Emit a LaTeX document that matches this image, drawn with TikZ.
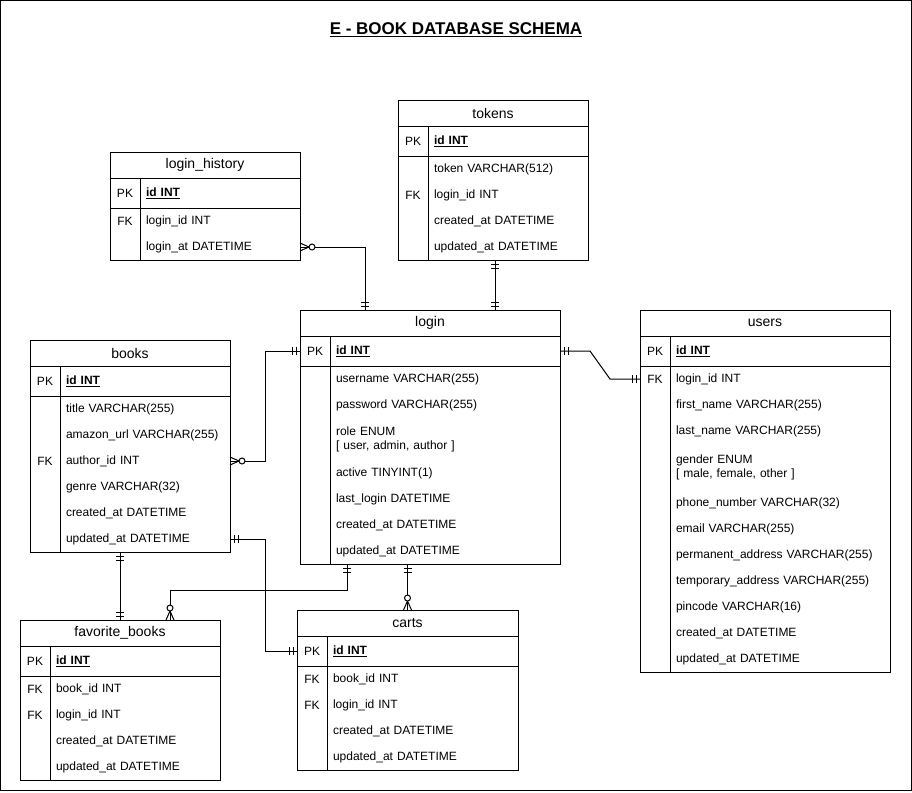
\documentclass[tikz,border=0pt]{standalone}
\usepackage{fontspec}
\setmainfont{Liberation Sans}
\usetikzlibrary{positioning,decorations.markings}

% one table: name, top left, width, title, rows key/text/height
\newcommand\ertable[5]{%
  \pgfmathsetmacro\tw{#3-42}
  \node[hdr, minimum width=#3pt, anchor=north west] (#1-t) at (#2) {#4};
  \node[keycell, minimum height=30pt, anchor=north west] (#1-k0) at (#1-t.south west) {PK};
  \node[cell, text width=\tw pt, minimum height=30pt, right=0pt of #1-k0] (#1-0) {\underline{\textbf{id INT}}};
  \foreach \ky/\txt/\rh [count=\i, evaluate=\i as \j using int(\i-1)] in {#5}{
    \node[keycell, minimum height=\rh pt, below=0pt of #1-k\j] (#1-k\i) {\ky};
    \node[cell, text width=\tw pt, minimum height=\rh pt, right=0pt of #1-k\i] (#1-\i) {\txt};
    \coordinate (#1-end) at (#1-\i.south east);
  }
  \draw (#1-t.north west) rectangle (#1-end);
  \draw (#1-t.south west) -- (#1-t.south east);
  \draw (#1-k0.south west) -- (#1-0.south east);
  \draw (#1-k0.north east) -- (#1-k0.north east |- #1-end);
}

\begin{document}
\begin{tikzpicture}[x=1pt,y=-1pt,line width=1pt,font=\fontsize{12}{14}\selectfont,
  every node/.style={outer sep=0pt},
  hdr/.style={inner sep=0pt, minimum height=26pt, font=\fontsize{14}{16}\selectfont},
  keycell/.style={inner sep=0pt, minimum width=30pt},
  cell/.style={inner xsep=6pt, inner ysep=0pt, align=left},
  one start/.style={postaction={decorate,decoration={markings,
      mark=at position 4pt with {\draw (0,-4pt) -- (0,4pt);},
      mark=at position 8pt with {\draw (0,-4pt) -- (0,4pt);}}}},
  one end/.style={postaction={decorate,decoration={markings,
      mark=at position -4pt with {\draw (0,-4pt) -- (0,4pt);},
      mark=at position -8pt with {\draw (0,-4pt) -- (0,4pt);}}}},
  many start/.style={postaction={decorate,decoration={markings,
      mark=at position 9pt with {\draw (-9pt,4pt) -- (0,0) -- (-9pt,-4pt); \draw[fill=white] (3pt,0) circle (3pt);}}}},
  many end/.style={postaction={decorate,decoration={markings,
      mark=at position -9pt with {\draw (9pt,4pt) -- (0,0) -- (9pt,-4pt); \draw[fill=white] (-3pt,0) circle (3pt);}}}}]
\useasboundingbox (0,0) rectangle (912,792);
\draw (0.5,0.5) rectangle (911.5,790.5);

\node[font=\bfseries\fontsize{17}{20}\selectfont] (title) at (456,30) {\underline{E - BOOK DATABASE SCHEMA}};

\ertable{lhist}{110,152}{190}{login\_history}{FK/{login\_id INT}/26, {}/{login\_at DATETIME}/26}
\ertable{tokens}{398,100}{190}{tokens}{{}/{token VARCHAR(512)}/26, FK/{login\_id INT}/26, {}/{created\_at DATETIME}/26, {}/{updated\_at DATETIME}/26}
\ertable{login}{300,310}{260}{login}{{}/{username VARCHAR(255)}/26, {}/{password VARCHAR(255)}/26, {}/{role ENUM\\{}[ user, admin, author ]}/42, {}/{active TINYINT(1)}/26, {}/{last\_login DATETIME}/26, {}/{created\_at DATETIME}/26, {}/{updated\_at DATETIME}/26}
\ertable{users}{640,310}{250}{users}{FK/{login\_id INT}/26, {}/{first\_name VARCHAR(255)}/26, {}/{last\_name VARCHAR(255)}/26, {}/{gender ENUM\\{}[ male, female, other ]}/46, {}/{phone\_number VARCHAR(32)}/26, {}/{email VARCHAR(255)}/26, {}/{permanent\_address VARCHAR(255)}/26, {}/{temporary\_address VARCHAR(255)}/26, {}/{pincode VARCHAR(16)}/26, {}/{created\_at DATETIME}/26, {}/{updated\_at DATETIME}/26}
\ertable{books}{30,340}{200}{books}{{}/{title VARCHAR(255)}/26, {}/{amazon\_url VARCHAR(255)}/26, FK/{author\_id INT}/26, {}/{genre VARCHAR(32)}/26, {}/{created\_at DATETIME}/26, {}/{updated\_at DATETIME}/26}
\ertable{fav}{20,620}{200}{favorite\_books}{FK/{book\_id INT}/26, FK/{login\_id INT}/26, {}/{created\_at DATETIME}/26, {}/{updated\_at DATETIME}/26}
\ertable{carts}{297,610}{221}{carts}{FK/{book\_id INT}/26, FK/{login\_id INT}/26, {}/{created\_at DATETIME}/26, {}/{updated\_at DATETIME}/26}

% relations
\draw[many start, one end] (lhist-2.east) -| ([xshift=65pt]login-t.north west);
\draw[one start, one end] ([xshift=195pt]login-t.north west |- tokens-end) -- ([xshift=195pt]login-t.north west);
\draw[many start, one end] (books-3.east) -- ++(35,0) |- (login-k0.west);
\draw[one start, one end] (books-6.east) -- ++(35,0) |- (carts-k0.west);
\draw[one start, one end] (login-0.east) -- ++(30,0) -- ([xshift=-30pt]users-k1.west) -- (users-k1.west);
\draw[one start, one end] (fav-t.north |- books-end) -- (fav-t.north);
\draw[one start, many end] ([xshift=47pt]login-t.west |- login-end) -- ++(0,26) -| ([xshift=150pt]fav-t.north west);
\draw[one start, many end] (carts-t.north |- login-end) -- (carts-t.north);
\end{tikzpicture}
\end{document}
